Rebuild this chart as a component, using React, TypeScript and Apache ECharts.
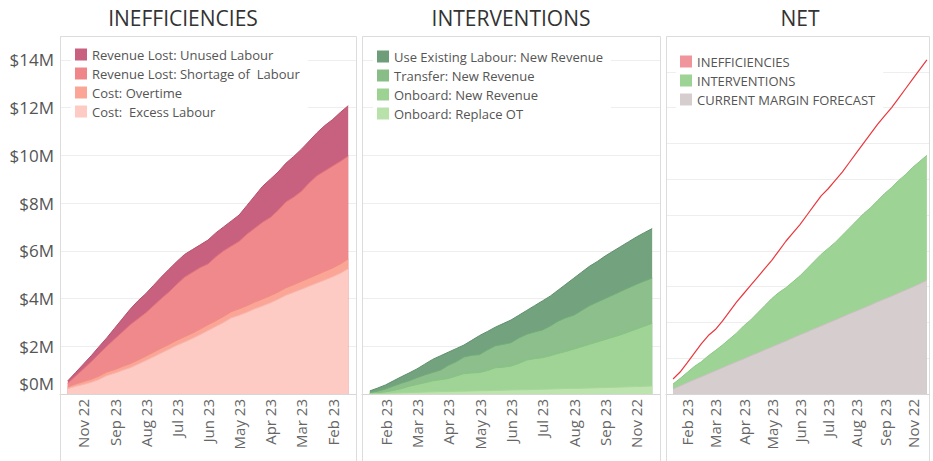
import React, { useEffect, useRef } from 'react';
import * as echarts from 'echarts';

const FONT = '"Open Sans", "Noto Sans", sans-serif';

const ineffMonths = ['Nov 22', 'Sep 23', 'Aug 23', 'Jul 23', 'Jun 23', 'May 23', 'Apr 23', 'Mar 23', 'Feb 23'];
const intervMonths = ['Feb 23', 'Mar 23', 'Apr 23', 'May 23', 'Jun 23', 'Jul 23', 'Aug 23', 'Sep 23', 'Nov 22'];
const netMonths = ['Feb 23', 'Mar 23', 'Apr 23', 'May 23', 'Jun 23', 'Jul 23', 'Aug 23', 'Sep 23', 'Nov 22'];
const labelIdx = [2, 6, 10, 14, 18, 22, 26, 30, 34];

const yTicks = [0, 2, 4, 6, 8, 10, 12, 14];

// INEFFICIENCIES ($M, stacked layers, bottom to top)
const excessLabour = [0.22, 0.32, 0.40, 0.49, 0.61, 0.77, 0.87, 0.99, 1.10, 1.25, 1.40, 1.56, 1.72, 1.88, 2.04, 2.18, 2.33, 2.49, 2.66, 2.83, 3.00, 3.19, 3.30, 3.43, 3.57, 3.69, 3.82, 3.97, 4.14, 4.26, 4.39, 4.52, 4.65, 4.78, 4.91, 5.06, 5.25];
const overtime = [0.08, 0.10, 0.12, 0.13, 0.14, 0.15, 0.15, 0.16, 0.17, 0.17, 0.18, 0.19, 0.20, 0.20, 0.21, 0.22, 0.22, 0.23, 0.24, 0.24, 0.25, 0.26, 0.27, 0.27, 0.28, 0.29, 0.30, 0.30, 0.31, 0.32, 0.33, 0.34, 0.35, 0.36, 0.37, 0.39, 0.41];
const shortageLabour = [0.15, 0.33, 0.53, 0.73, 0.93, 1.08, 1.28, 1.45, 1.63, 1.73, 1.82, 1.95, 2.08, 2.20, 2.35, 2.50, 2.55, 2.58, 2.55, 2.68, 2.75, 2.75, 2.83, 3.00, 3.10, 3.22, 3.28, 3.43, 3.60, 3.67, 3.78, 3.99, 4.15, 4.21, 4.27, 4.30, 4.31];
const unusedLabour = [0.10, 0.15, 0.20, 0.25, 0.30, 0.35, 0.45, 0.55, 0.65, 0.75, 0.80, 0.85, 0.90, 0.95, 0.95, 0.95, 0.95, 0.95, 1.00, 1.00, 1.00, 1.05, 1.10, 1.20, 1.35, 1.50, 1.60, 1.60, 1.62, 1.70, 1.76, 1.75, 1.80, 1.90, 1.95, 2.05, 2.11];

// INTERVENTIONS ($M, stacked layers, bottom to top)
const replaceOT = [0.01, 0.02, 0.03, 0.04, 0.05, 0.06, 0.07, 0.08, 0.09, 0.10, 0.10, 0.11, 0.12, 0.13, 0.14, 0.14, 0.15, 0.16, 0.17, 0.18, 0.18, 0.19, 0.20, 0.21, 0.22, 0.23, 0.23, 0.24, 0.25, 0.26, 0.27, 0.28, 0.29, 0.30, 0.31, 0.32, 0.34];
const onboardNewRevenue = [0.01, 0.03, 0.06, 0.11, 0.17, 0.26, 0.33, 0.39, 0.46, 0.50, 0.55, 0.64, 0.73, 0.75, 0.76, 0.84, 0.95, 0.96, 1.00, 1.10, 1.24, 1.29, 1.32, 1.39, 1.48, 1.55, 1.65, 1.74, 1.83, 1.92, 2.01, 2.10, 2.19, 2.30, 2.41, 2.52, 2.62];
const transferNewRevenue = [0.03, 0.07, 0.12, 0.18, 0.23, 0.23, 0.28, 0.33, 0.35, 0.40, 0.55, 0.60, 0.70, 0.74, 0.75, 0.87, 0.92, 0.96, 0.98, 1.07, 1.08, 1.12, 1.16, 1.25, 1.35, 1.42, 1.42, 1.52, 1.62, 1.67, 1.72, 1.77, 1.82, 1.85, 1.88, 1.89, 1.90];
const existingNewRevenue = [0.08, 0.13, 0.17, 0.22, 0.27, 0.33, 0.37, 0.45, 0.55, 0.60, 0.55, 0.55, 0.50, 0.63, 0.80, 0.77, 0.78, 0.87, 0.95, 0.95, 1.00, 1.10, 1.22, 1.25, 1.30, 1.40, 1.55, 1.60, 1.65, 1.70, 1.78, 1.83, 1.88, 1.93, 1.98, 2.03, 2.07];

// NET ($M)
const netInefficiencies = [0.63, 0.92, 1.30, 1.70, 2.10, 2.45, 2.70, 3.05, 3.45, 3.85, 4.20, 4.55, 4.90, 5.25, 5.60, 6.00, 6.40, 6.75, 7.10, 7.50, 7.90, 8.30, 8.60, 8.95, 9.30, 9.70, 10.10, 10.50, 10.90, 11.30, 11.65, 12.00, 12.40, 12.80, 13.20, 13.60, 14.00];
const netInterventions = [0.42, 0.65, 0.90, 1.15, 1.35, 1.60, 1.82, 2.05, 2.30, 2.55, 2.85, 3.10, 3.40, 3.70, 4.00, 4.25, 4.45, 4.70, 4.95, 5.25, 5.55, 5.85, 6.10, 6.35, 6.65, 6.95, 7.25, 7.55, 7.80, 8.10, 8.40, 8.65, 8.95, 9.20, 9.50, 9.75, 10.00];
const marginForecast = [0.21, 0.34, 0.47, 0.60, 0.72, 0.85, 0.97, 1.10, 1.23, 1.35, 1.47, 1.60, 1.72, 1.85, 1.97, 2.10, 2.22, 2.35, 2.48, 2.60, 2.73, 2.85, 2.98, 3.10, 3.23, 3.36, 3.48, 3.60, 3.73, 3.86, 3.98, 4.10, 4.23, 4.36, 4.48, 4.62, 4.77];

// running totals of stacked layers (bottom layer first)
function cumulate(layers: number[][]): number[][] {
  const out: number[][] = [];
  let acc = layers[0].map(() => 0);
  for (const l of layers) {
    acc = acc.map((a, i) => +(a + l[i]).toFixed(4));
    out.push(acc);
  }
  return out;
}

const toXY = (arr: number[]) => arr.map((v, i) => [i, v]);

function areaSeries(name: string, data: number[], idx: number, fill: string, edge: string) {
  return {
    name,
    type: 'line',
    xAxisIndex: idx,
    yAxisIndex: idx,
    data: toXY(data),
    symbol: 'none',
    showSymbol: false,
    silent: true,
    itemStyle: { color: fill },
    lineStyle: { color: edge, width: 1 },
    areaStyle: { color: fill, opacity: 1 },
  };
}

function xAxis(idx: number, months: string[], max: number) {
  return {
    gridIndex: idx,
    type: 'value',
    min: -1,
    max,
    axisLine: { show: true, lineStyle: { color: '#d6d6d6', width: 1 } },
    axisTick: { show: false },
    splitLine: { show: false },
    axisLabel: {
      show: true,
      customValues: labelIdx,
      rotate: 90,
      margin: 5,
      fontSize: 15,
      color: '#666',
      fontFamily: FONT,
      formatter: (v: number) => {
        const k = labelIdx.indexOf(Math.round(v));
        return k >= 0 ? months[k] : '';
      },
    },
  };
}

function yAxis(idx: number, interval: number, showLabels: boolean) {
  return {
    gridIndex: idx,
    type: 'value',
    min: 0,
    max: 15,
    interval,
    axisLine: { show: false },
    axisTick: { show: false },
    splitLine: { show: true, lineStyle: { color: '#eeeeee', width: 1 } },
    axisLabel: showLabels
      ? {
          show: true,
          customValues: yTicks,
          margin: 6,
          fontSize: 17,
          color: '#555',
          fontFamily: FONT,
          formatter: (v: number) => (v === 0 ? '{z|$0M}' : '$' + v + 'M'),
          rich: { z: { padding: [0, 0, 22, 0], fontSize: 17, color: '#555', fontFamily: FONT } },
        }
      : { show: false },
  };
}

function legend(left: number, top: number, data: any[]) {
  return {
    left,
    top,
    orient: 'vertical',
    icon: 'rect',
    itemWidth: 12,
    itemHeight: 12,
    itemGap: 6,
    padding: [5, 8, 5, 4],
    backgroundColor: '#ffffff',
    selectedMode: false,
    textStyle: { fontSize: 13, color: '#555', fontFamily: FONT },
    data,
  };
}

export default function App() {
  const ref = useRef<HTMLDivElement>(null);
  useEffect(() => {
    if (!ref.current) return;
    const chart = echarts.init(ref.current, undefined, { renderer: 'svg' });
    const border = '#dcdcdc';
    const [cExcess, cOvertime, cShortage, cUnused] = cumulate([excessLabour, overtime, shortageLabour, unusedLabour]);
    const [cReplace, cOnboard, cTransfer, cExisting] = cumulate([replaceOT, onboardNewRevenue, transferNewRevenue, existingNewRevenue]);
    const option: any = {
      animation: false,
      backgroundColor: '#ffffff',
      grid: [
        { left: 60, top: 36, width: 296, height: 358 },
        { left: 362, top: 36, width: 298, height: 358 },
        { left: 666, top: 36, width: 263, height: 358 },
      ],
      xAxis: [xAxis(0, ineffMonths, 37), xAxis(1, intervMonths, 37), xAxis(2, netMonths, 36.3)],
      yAxis: [yAxis(0, 2, true), yAxis(1, 2, false), yAxis(2, 1.5, false)],
      legend: [
        legend(71, 43, [
          { name: 'Revenue Lost: Unused Labour', itemStyle: { color: '#c8617f' } },
          { name: 'Revenue Lost: Shortage of  Labour', itemStyle: { color: '#ef868a' } },
          { name: 'Cost: Overtime', itemStyle: { color: '#fba596' } },
          { name: 'Cost:  Excess Labour', itemStyle: { color: '#fdcbc4' } },
        ]),
        legend(373, 45, [
          { name: 'Use Existing Labour: New Revenue', itemStyle: { color: '#6e9d7a' } },
          { name: 'Transfer: New Revenue', itemStyle: { color: '#88bd88' } },
          { name: 'Onboard: New Revenue', itemStyle: { color: '#9dd293' } },
          { name: 'Onboard: Replace OT', itemStyle: { color: '#b9e2aa' } },
        ]),
        legend(676, 50, [
          { name: 'INEFFICIENCIES', itemStyle: { color: '#f1959c' } },
          { name: 'INTERVENTIONS', itemStyle: { color: '#9dd394' } },
          { name: 'CURRENT MARGIN FORECAST', itemStyle: { color: '#d6cdce' } },
        ]),
      ],
      series: [
        // drawn top layer first so lower layers cover the rest
        areaSeries('Revenue Lost: Unused Labour', cUnused, 0, '#c8617f', '#b54f6d'),
        areaSeries('Revenue Lost: Shortage of  Labour', cShortage, 0, '#ef898c', '#e07079'),
        areaSeries('Cost: Overtime', cOvertime, 0, '#fba596', '#f28c80'),
        areaSeries('Cost:  Excess Labour', cExcess, 0, '#fdcbc4', '#f8b5ac'),

        areaSeries('Use Existing Labour: New Revenue', cExisting, 1, '#73a27f', '#5f8f6c'),
        areaSeries('Transfer: New Revenue', cTransfer, 1, '#8cbf8b', '#73ac77'),
        areaSeries('Onboard: New Revenue', cOnboard, 1, '#a0d496', '#86c47f'),
        areaSeries('Onboard: Replace OT', cReplace, 1, '#bde4ae', '#a7d698'),

        areaSeries('INTERVENTIONS', netInterventions, 2, '#9dd394', '#8cc886'),
        areaSeries('CURRENT MARGIN FORECAST', marginForecast, 2, '#d6cdce', '#cbbfc1'),
        {
          name: 'INEFFICIENCIES',
          type: 'line',
          xAxisIndex: 2,
          yAxisIndex: 2,
          data: toXY(netInefficiencies),
          symbol: 'none',
          showSymbol: false,
          silent: true,
          itemStyle: { color: '#f1959c' },
          lineStyle: { color: '#e8383d', width: 1.2 },
        },
      ],
      graphic: [
        { type: 'text', x: 183, y: 18, silent: true, style: { text: 'INEFFICIENCIES', fill: '#333', font: '400 21px ' + FONT, align: 'center', verticalAlign: 'middle' } },
        { type: 'text', x: 511, y: 18, silent: true, style: { text: 'INTERVENTIONS', fill: '#333', font: '400 21px ' + FONT, align: 'center', verticalAlign: 'middle' } },
        { type: 'text', x: 800, y: 18, silent: true, style: { text: 'NET', fill: '#333', font: '400 21px ' + FONT, align: 'center', verticalAlign: 'middle' } },
        { type: 'rect', silent: true, z: 100, shape: { x: 60.5, y: 36.5, width: 296, height: 440 }, style: { fill: 'none', stroke: border, lineWidth: 1 } },
        { type: 'rect', silent: true, z: 100, shape: { x: 362.5, y: 36.5, width: 298, height: 440 }, style: { fill: 'none', stroke: border, lineWidth: 1 } },
        { type: 'rect', silent: true, z: 100, shape: { x: 666.5, y: 36.5, width: 263, height: 440 }, style: { fill: 'none', stroke: border, lineWidth: 1 } },
      ],
    };
    chart.setOption(option);
    return () => chart.dispose();
  }, []);
  return <div ref={ref} style={{ position: 'fixed', left: 0, top: 0, width: 933, height: 461, background: '#fff' }} />;
}
